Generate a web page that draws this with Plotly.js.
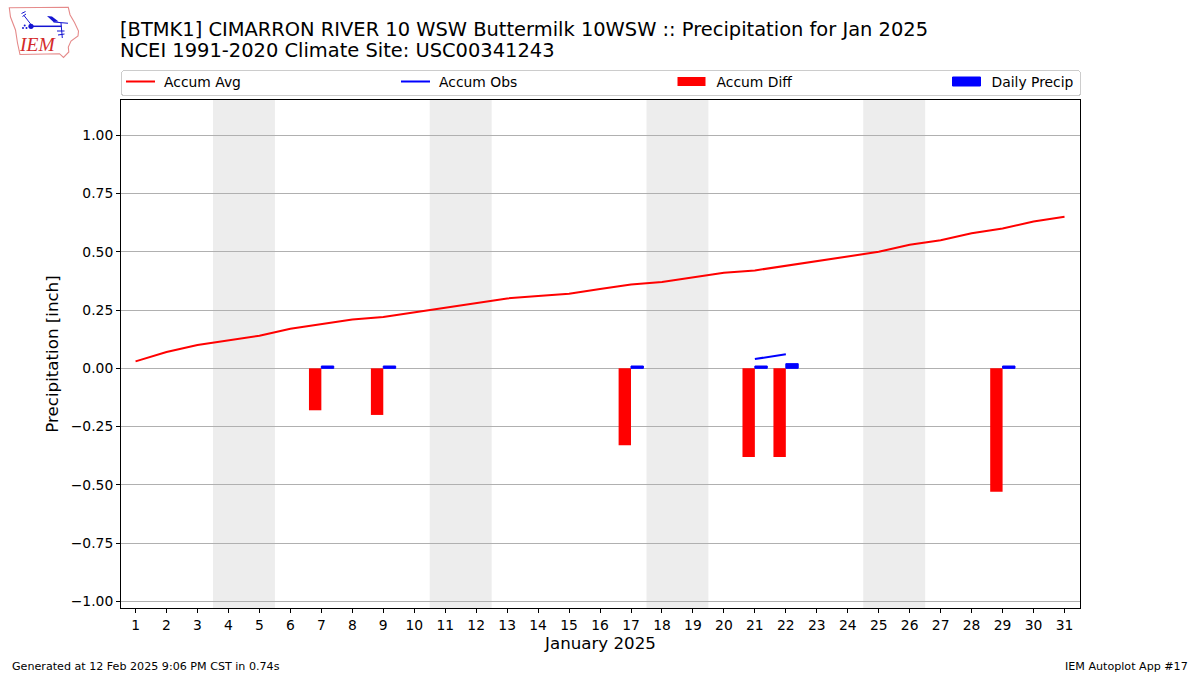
<!DOCTYPE html>
<html>
<head>
<meta charset="utf-8">
<script src="https://cdn.plot.ly/plotly-3.0.1.min.js"></script>
<style>html,body{margin:0;padding:0;background:#fff}#chart{width:1200px;height:675px}</style>
</head>
<body>
<div id="chart"></div>
<script>
const days = [1,2,3,4,5,6,7,8,9,10,11,12,13,14,15,16,17,18,19,20,21,22,23,24,25,26,27,28,29,30,31];
const accumAvg = [0.03,0.07,0.10,0.12,0.14,0.17,0.19,0.21,0.22,0.24,0.26,0.28,0.30,0.31,0.32,0.34,0.36,0.37,0.39,0.41,0.42,0.44,0.46,0.48,0.50,0.53,0.55,0.58,0.60,0.63,0.65];
const obsDays = [21,22];
const accumObs = [0.04,0.06];
const rainDays = [7,9,17,21,22,29];
const accumDiff = [-0.18,-0.20,-0.33,-0.38,-0.38,-0.53];
const dailyPrecip = [0.01,0.01,0.01,0.01,0.02,0.01];
const weekendStarts = [3.5,10.5,17.5,24.5];
const weekendEnds = [5.5,12.5,19.5,26.5];
const yTicks = [-1,-0.75,-0.5,-0.25,0,0.25,0.5,0.75,1];

const F = "'DejaVu Sans'";
const logo = `<svg xmlns="http://www.w3.org/2000/svg" width="90" height="62" viewBox="0 0 90 62">
<path d="M9.3 7.7 L68.3 7.3 L70 14.7 L74.5 22.5 L78.5 31 L78 36 L71 41 L68.3 47 L68.8 52 L63.5 57.5 L59.5 53.7 L20 54.5 L17.5 43 L15.5 30 L10.5 17 Z" fill="#fff" stroke="#e58a8a" stroke-width="1.1"/>
<g stroke="#1414d2" fill="#1414d2">
<path d="M31 26.3 H61.5" stroke-width="1.5"/><circle cx="31" cy="26.3" r="2.6" stroke="none"/>
<path d="M31 24.5 L24 15.5 M21.5 13.5 L25.5 11.5 M22.5 16.5 L26 14" stroke-width="1" fill="none"/>
<path d="M47 16 L52 16.5 L58.5 21.5 L53.5 22 Z" stroke="none"/><path d="M53.5 22 L68 23.3" stroke-width="1.1"/>
<path d="M61 23 L62.3 38 M57 31 L64.5 31 M58 35 L64.5 34" stroke-width="1" fill="none"/>
<circle cx="23" cy="28" r="1" stroke="none"/><circle cx="26.5" cy="28" r="1" stroke="none"/><circle cx="24.7" cy="25.5" r="1" stroke="none"/>
</g></svg>`;

const traces = [
  {type:'scatter', mode:'lines', name:'Accum Avg', x:days, y:accumAvg, line:{color:'#ff0000', width:2}},
  {type:'scatter', mode:'lines', name:'Accum Obs', x:obsDays, y:accumObs, line:{color:'#0000ff', width:2}},
  {type:'bar', name:'Accum Diff', x:rainDays, y:accumDiff, width:0.4, offset:-0.4, marker:{color:'#ff0000', line:{width:0}}},
  {type:'bar', name:'Daily Precip', x:rainDays, y:dailyPrecip, width:0.4, offset:0, marker:{color:'#0000ff', line:{width:1, color:'#0000ff'}}}
];

const layout = {
  width:1200, height:675,
  paper_bgcolor:'#fff', plot_bgcolor:'#fff',
  font:{family:F, size:13.89, color:'#000'},
  margin:{l:121, r:120, t:100, b:67, pad:0},
  barmode:'overlay',
  title:{text:'[BTMK1] CIMARRON RIVER 10 WSW Buttermilk 10WSW :: Precipitation for Jan 2025',
    font:{family:F, size:19.44, color:'#000'}, x:0, xanchor:'left', xref:'paper', y:1-29/675, yanchor:'middle', pad:{l:-1}},
  xaxis:{range:[0.53,31.5], tickvals:days, ticktext:days.map(String), tickmode:'array', showgrid:false, zeroline:false,
    showline:true, mirror:true, linecolor:'#000', linewidth:1, ticks:'outside', ticklen:4, tickcolor:'#000', tickwidth:1,
    tickfont:{size:13.89}, title:{text:'January 2025', font:{size:16.67}, standoff:5}},
  yaxis:{range:[-1.0285,1.1515], tickmode:'array', tickvals:yTicks, ticktext:yTicks.map(v=>v.toFixed(2).replace('-','\u2212')), showgrid:true, gridcolor:'#b0b0b0', gridwidth:1, zeroline:false,
    showline:true, mirror:true, linecolor:'#000', linewidth:1, ticks:'outside', ticklen:4, tickcolor:'#000', tickwidth:1,
    tickfont:{size:13.89}, title:{text:'Precipitation [inch]', font:{size:16.67}, standoff:7}},
  legend:{orientation:'h', x:0, xanchor:'left', y:1.0+5/508, yanchor:'bottom', entrywidth:185, entrywidthmode:'pixels',
    bordercolor:'#cccccc', borderwidth:1, bgcolor:'#fff', font:{size:13.89}, traceorder:'normal', itemclick:false},
  showlegend:true,
  shapes: weekendStarts.map((s,i)=>({type:'rect', xref:'x', yref:'paper', x0:s, x1:weekendEnds[i], y0:0, y1:1, fillcolor:'#ededed', line:{width:0}, layer:'below'})),
  images:[{source:'data:image/svg+xml;utf8,'+encodeURIComponent(logo), xref:'paper', yref:'paper', xanchor:'left', yanchor:'top', sizex:90/959, sizey:62/508,
    x:-121/959, y:1+100/508, layer:'above', sizing:'stretch'}],
  annotations:[
    {text:'NCEI 1991-2020 Climate Site: USC00341243', xref:'paper', yref:'paper', x:-3/959, y:1+(100-51)/508, xanchor:'left', yanchor:'middle', showarrow:false, font:{size:19.44}},
    {text:'<i>IEM</i>', xref:'paper', yref:'paper', x:(37-121)/959, y:1+(100-45)/508, xanchor:'center', yanchor:'middle', showarrow:false, font:{family:"'Liberation Serif'", size:19.5, color:'#d42a2a'}},
    {text:'Generated at 12 Feb 2025 9:06 PM CST in 0.74s', xref:'paper', yref:'paper', x:(10-121)/959, y:-(666-608)/508, xanchor:'left', yanchor:'middle', showarrow:false, font:{size:11.11}},
    {text:'IEM Autoplot App #17', xref:'paper', yref:'paper', x:(1190-121)/959, y:-(666-608)/508, xanchor:'right', yanchor:'middle', showarrow:false, font:{size:11.11}}
  ]
};
const legendItemLeft = [0, 275, 552.5, 827.5];
Plotly.newPlot('chart', traces, layout, {displayModeBar:false, responsive:false}).then(gd => {
  const legend = gd.querySelector('.legend');
  legend.querySelectorAll('.traces').forEach((g, i) => {
    g.setAttribute('transform', `translate(${legendItemLeft[i]},11.5)`);
    const t = g.querySelector('text.legendtext');
    if (t) t.setAttribute('x', 43);
    g.querySelectorAll('.legendlines path').forEach(p => p.setAttribute('d', 'M5,0h29'));
    g.querySelectorAll('.legendpoints path').forEach(p => p.setAttribute('d', 'M12,4.5H-16V-4.5H12Z'));
  });
  const bg = legend.querySelector('rect.bg');
  bg.setAttribute('rx', 3); bg.setAttribute('ry', 3);
  bg.setAttribute('width', 959); bg.setAttribute('height', 25);
  const scroll = legend.querySelector('.scrollbox');
  if (scroll) scroll.removeAttribute('clip-path');
  const m = /translate\(([^,]+),\s*([^)]+)\)/.exec(legend.getAttribute('transform'));
  legend.setAttribute('transform', `translate(${m[1]},70)`);
});
</script>
</body>
</html>
